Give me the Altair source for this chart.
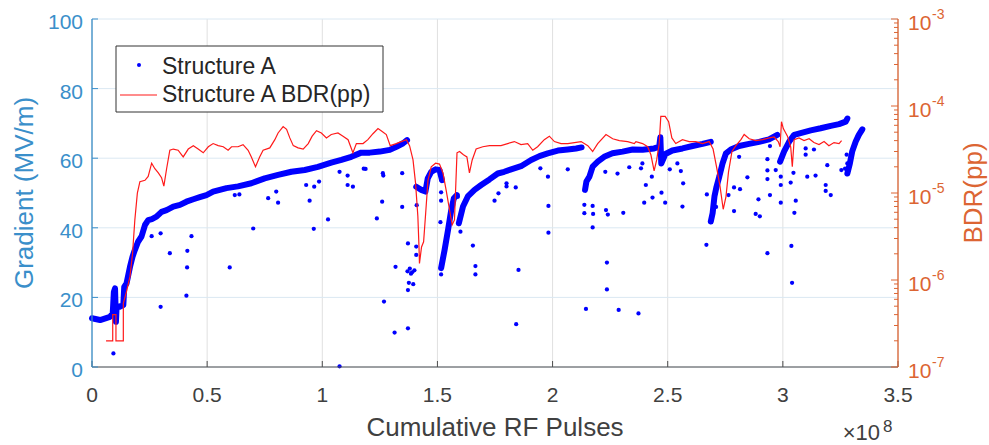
import altair as alt
import pandas as pd

# ---------------- data (x in units of 1e8 pulses) ----------------
# dense conditioning band of Structure A, one list pair per run
segA_x = [0.0, 0.035, 0.078, 0.09, 0.095, 0.100, 0.104, 0.107, 0.12, 0.136, 0.14, 0.15, 0.165,
          0.176, 0.186, 0.20, 0.215, 0.23, 0.244, 0.26, 0.28, 0.302, 0.324, 0.353, 0.382, 0.41,
          0.44, 0.468, 0.497, 0.526, 0.555, 0.584, 0.634, 0.692, 0.75, 0.808, 0.866, 0.924,
          0.981, 1.039, 1.083, 1.126, 1.169, 1.206, 1.25, 1.293, 1.322, 1.351, 1.368]
segA_y = [14.0, 13.5, 14.4, 15.4, 21.6, 22.6, 13.0, 17.5, 17.3, 17.8, 23.0, 24.0, 28.8,
          31.7, 33.6, 36.0, 37.5, 40.8, 42.2, 42.5, 43.2, 44.6, 45.1, 46.1, 46.6, 47.5,
          48.2, 48.8, 49.4, 50.4, 50.9, 51.4, 51.9, 52.8, 54.2, 55.2, 56.1, 56.6,
          57.5, 58.7, 59.5, 60.4, 61.6, 61.6, 61.9, 62.4, 63.3, 64.3, 65.2]
segB_x = [1.408, 1.43, 1.448, 1.458, 1.473, 1.492, 1.509, 1.52]
segB_y = [51.8, 50.9, 50.4, 54.2, 56.1, 56.8, 56.6, 53.7]
segC_x = [1.516, 1.531, 1.546, 1.56, 1.571, 1.584]
segC_y = [28.4, 33.6, 39.4, 45.1, 48.4, 49.4]
segD_x = [1.593, 1.611, 1.632, 1.661, 1.69, 1.726, 1.762, 1.79, 1.82, 1.863, 1.907, 1.943,
          1.979, 2.023, 2.066, 2.102, 2.126]
segD_y = [41.3, 46.1, 49.0, 50.9, 52.3, 53.9, 55.6, 56.1, 56.8, 57.7, 59.5, 60.6,
          61.4, 62.2, 62.5, 62.8, 63.1]
segE_x = [2.141, 2.147, 2.16, 2.174, 2.196, 2.224, 2.26, 2.304, 2.348, 2.391, 2.441, 2.463,
          2.468, 2.472, 2.49, 2.52, 2.564, 2.608, 2.651, 2.687]
segE_y = [50.9, 53.3, 54.7, 57.6, 59.0, 60.4, 61.4, 61.9, 62.5, 62.4, 62.8, 63.3,
          66.0, 58.5, 61.2, 62.2, 62.8, 63.5, 64.1, 64.7]
segF_x = [2.687, 2.695, 2.703, 2.712, 2.724, 2.738, 2.753, 2.774, 2.81, 2.853, 2.897, 2.94, 2.976]
segF_y = [41.8, 44.2, 49.0, 51.8, 54.7, 58.5, 61.4, 62.5, 63.5, 64.1, 64.7, 65.4, 66.7]
segG_x = [2.988, 3.005, 3.027, 3.049, 3.077, 3.121, 3.164, 3.208, 3.244, 3.273, 3.28]
segG_y = [59.0, 61.9, 64.7, 66.7, 67.2, 68.0, 68.6, 69.3, 69.8, 70.5, 71.4]
segH_x = [3.28, 3.291, 3.301, 3.316, 3.33, 3.345]
segH_y = [55.6, 58.5, 61.9, 64.7, 66.7, 68.3]

# scattered (outlier) gradient points
out_x = [0.093, 0.259, 0.298, 0.338, 0.298, 0.413, 0.414, 0.432, 0.41, 0.598, 0.62, 0.64, 0.70,
         0.765, 0.80, 0.808, 0.93, 0.945, 0.963, 0.965, 0.986, 1.025, 1.075, 1.11, 1.11, 1.133,
         1.075, 1.18, 1.188, 1.263, 1.265, 1.347, 1.26, 1.347, 1.237, 1.41, 1.372, 1.408, 1.408,
         1.318, 1.37, 1.38, 1.39, 1.40, 1.385, 1.376, 1.395, 1.372, 1.268, 1.314, 1.372, 1.516,
         1.516, 1.516, 1.513, 1.516, 1.589, 1.654, 1.665, 1.665, 1.60, 1.748, 1.765, 1.80, 1.80,
         1.84, 1.852, 1.842, 1.947, 1.98, 1.982, 1.982, 2.066, 2.138, 2.138, 2.174, 2.176, 2.174,
         2.145, 2.229, 2.232, 2.24, 2.236, 2.236, 2.287, 2.282, 2.307, 2.333, 2.384, 2.39, 2.405,
         2.431, 2.398, 2.434, 2.473, 2.489, 2.509, 2.542, 2.557, 2.567, 2.564, 2.373, 2.67, 2.668,
         2.71, 2.764, 2.788, 2.814, 2.788, 2.81, 2.846, 2.894, 2.882, 2.90, 2.933, 2.933, 2.933,
         2.933, 2.944, 2.944, 2.969, 2.991, 2.991, 2.991, 3.034, 3.056, 3.05, 3.037, 3.04, 3.046,
         3.099, 3.099, 3.106, 3.135, 3.142, 3.193, 3.186, 3.186, 3.208, 3.254, 3.277, 3.27, 3.28,
         3.285]
out_y = [3.9, 37.6, 38.4, 32.7, 17.3, 28.6, 33.4, 37.6, 20.5, 28.6, 49.4, 49.6, 39.8,
         48.5, 50.4, 47.2, 52.3, 47.8, 39.7, 51.8, 53.3, 42.4, 56.1, 52.3, 55.0, 51.8,
         0.2, 57.0, 56.9, 55.7, 55.0, 55.7, 47.5, 46.0, 42.7, 46.5, 35.5, 34.6, 32.2,
         28.8, 27.5, 28.3, 27.2, 27.8, 26.8, 24.2, 23.8, 22.1, 18.8, 9.9, 11.1, 53.7,
         50.2, 47.8, 41.6, 26.6, 48.9, 34.9, 29.0, 26.6, 38.9, 47.8, 49.9, 52.8, 51.9,
         51.6, 27.9, 12.3, 57.1, 54.7, 46.3, 38.6, 56.8, 46.6, 44.2, 46.3, 44.0, 40.1,
         16.7, 56.1, 45.1, 43.8, 30.0, 22.3, 16.4, 55.6, 44.3, 57.4, 57.1, 58.5, 52.3,
         54.7, 47.2, 48.7, 50.1, 47.2, 56.8, 58.5, 56.3, 52.8, 46.1, 15.4, 49.6, 35.1,
         46.0, 49.4, 51.6, 51.1, 44.8, 60.4, 54.5, 48.2, 44.0, 43.3, 59.7, 56.5, 54.0,
         32.7, 49.4, 63.5, 56.6, 54.7, 52.3, 47.2, 53.0, 47.8, 44.3, 34.8, 24.2, 55.8,
         62.8, 61.0, 54.7, 62.5, 55.0, 58.0, 52.3, 50.6, 49.4, 56.6, 61.0, 57.0, 58.5,
         56.5]

# breakdown rate (per pulse)
bdr_x = [0.061, 0.09, 0.09, 0.104, 0.104, 0.136, 0.136, 0.15, 0.165, 0.176, 0.186, 0.197, 0.208,
         0.23, 0.244, 0.259, 0.273, 0.288, 0.302, 0.312, 0.324, 0.338, 0.353, 0.374, 0.396,
         0.418, 0.44, 0.461, 0.483, 0.505, 0.526, 0.548, 0.57, 0.591, 0.606, 0.634, 0.656,
         0.678, 0.692, 0.71, 0.728, 0.743, 0.772, 0.794, 0.808, 0.83, 0.845, 0.859, 0.874,
         0.895, 0.917, 0.939, 0.956, 0.975, 0.996, 1.018, 1.039, 1.068, 1.09, 1.112, 1.133,
         1.148, 1.169, 1.177, 1.198, 1.22, 1.242, 1.26, 1.278, 1.295, 1.321, 1.343, 1.365,
         1.379, 1.394, 1.405, 1.415, 1.42, 1.422, 1.431, 1.44, 1.449, 1.459, 1.473, 1.492,
         1.509, 1.524, 1.538, 1.553, 1.564, 1.574, 1.585, 1.596, 1.613, 1.628, 1.639, 1.651,
         1.668, 1.697, 1.726, 1.755, 1.776, 1.805, 1.834, 1.863, 1.892, 1.914, 1.935, 1.964,
         1.986, 2.008, 2.037, 2.066, 2.095, 2.124, 2.153, 2.174, 2.196, 2.232, 2.261, 2.29,
         2.326, 2.355, 2.362, 2.391, 2.413, 2.427, 2.441, 2.452, 2.463, 2.47, 2.489, 2.504,
         2.518, 2.535, 2.564, 2.593, 2.622, 2.651, 2.68, 2.697, 2.712, 2.727, 2.741, 2.753,
         2.764, 2.779, 2.796, 2.818, 2.832, 2.854, 2.883, 2.912, 2.941, 2.962, 2.98, 2.988,
         2.994, 3.002, 3.02, 3.034, 3.041, 3.049, 3.07, 3.092, 3.114, 3.135, 3.157, 3.179,
         3.2, 3.222, 3.244, 3.255]
bdr_v = [2.0e-7, 2.0e-7, 4.0e-7, 4.0e-7, 2.0e-7, 2.0e-7, 5.4e-7, 7.4e-7, 1.1e-6, 2.0e-6, 4.9e-6, 1.0e-5, 1.35e-5,
         1.4e-5, 1.55e-5, 2.2e-5, 1.9e-5, 1.7e-5, 1.5e-5, 1.2e-5, 1.9e-5, 3.1e-5, 3.2e-5, 3.1e-5, 2.6e-5,
         3.2e-5, 3.5e-5, 3.2e-5, 2.9e-5, 3.4e-5, 3.7e-5, 3.5e-5, 3.4e-5, 3.1e-5, 3.4e-5, 3.4e-5, 3.6e-5,
         3.1e-5, 2.6e-5, 2.0e-5, 2.6e-5, 3.1e-5, 3.3e-5, 4.1e-5, 4.9e-5, 5.8e-5, 5.4e-5, 4.3e-5, 3.5e-5,
         3.3e-5, 3.2e-5, 3.7e-5, 4.5e-5, 5.2e-5, 4.9e-5, 4.3e-5, 4.7e-5, 4.9e-5, 4.5e-5, 4.1e-5, 2.9e-5,
         3.7e-5, 3.7e-5, 3.7e-5, 4.1e-5, 4.8e-5, 5.5e-5, 5.1e-5, 4.7e-5, 3.5e-5, 3.7e-5, 3.9e-5, 4.1e-5,
         3.5e-5, 2.4e-5, 1.3e-5, 5.4e-6, 2.4e-6, 1.55e-6, 2.4e-6, 2.75e-6, 5.9e-6, 1.4e-5, 2.0e-5, 2.2e-5,
         2.15e-5, 1.7e-5, 1.07e-5, 6.3e-6, 4.3e-6, 4.9e-6, 2.9e-5, 3.0e-5, 2.75e-5, 2.6e-5, 1.7e-5, 2.4e-5,
         3.2e-5, 3.4e-5, 3.5e-5, 3.5e-5, 3.5e-5, 3.7e-5, 3.9e-5, 3.6e-5, 3.7e-5, 3.1e-5, 3.4e-5, 4.1e-5,
         4.5e-5, 3.9e-5, 3.7e-5, 3.7e-5, 3.8e-5, 3.9e-5, 3.5e-5, 3.0e-5, 3.7e-5, 4.7e-5, 4.2e-5, 4.0e-5,
         3.9e-5, 3.7e-5, 3.9e-5, 3.7e-5, 3.4e-5, 2.75e-5, 1.8e-5, 2.4e-5, 3.7e-5, 7.6e-5, 7.6e-5, 6.6e-5,
         4.3e-5, 3.7e-5, 4.1e-5, 3.9e-5, 3.9e-5, 3.7e-5, 3.9e-5, 3.2e-5, 2.0e-5, 1.2e-5, 6.5e-6, 9.1e-6,
         1.75e-5, 3.0e-5, 3.5e-5, 4.1e-5, 4.7e-5, 4.2e-5, 4.0e-5, 4.1e-5, 4.3e-5, 4.4e-5, 3.9e-5, 3.4e-5,
         6.6e-5, 5.5e-5, 4.5e-5, 3.4e-5, 2.0e-5, 4.1e-5, 4.3e-5, 4.0e-5, 4.2e-5, 3.8e-5, 3.6e-5, 3.9e-5,
         3.5e-5, 3.8e-5, 3.7e-5, 4.0e-5]

# axis ticks / labels
x_ticks = [0, 0.5, 1, 1.5, 2, 2.5, 3, 3.5]
x_tick_labels = ["0", "0.5", "1", "1.5", "2", "2.5", "3", "3.5"]
grad_ticks = [0, 20, 40, 60, 80, 100]
grad_tick_labels = ["0", "20", "40", "60", "80", "100"]
bdr_decades = [1e-7, 1e-6, 1e-5, 1e-4, 1e-3]
bdr_exponents = ["-7", "-6", "-5", "-4", "-3"]
bdr_minor = [2e-7, 3e-7, 4e-7, 5e-7, 6e-7, 7e-7, 8e-7, 9e-7,
             2e-6, 3e-6, 4e-6, 5e-6, 6e-6, 7e-6, 8e-6, 9e-6,
             2e-5, 3e-5, 4e-5, 5e-5, 6e-5, 7e-5, 8e-5, 9e-5,
             2e-4, 3e-4, 4e-4, 5e-4, 6e-4, 7e-4, 8e-4, 9e-4]
legend_labels = ["Structure A", "Structure A BDR(pp)"]
x_title = "Cumulative RF Pulses"
left_title = "Gradient (MV/m)"
right_title = "BDR(pp)"
x_multiplier = ["×10", "8"]

# ---------------- styling ----------------
W, H = 806, 348
FONT = "Liberation Sans"
BLUE_AX = "#3a8fca"
ORANGE = "#dc6533"
GREY = "#404040"
AXGREY = "#4d4d4d"
PT_BLUE = "#0000ff"
LINE_RED = "#ff1a1a"

segs = []
for name, xs, ys in [("A", segA_x, segA_y), ("B", segB_x, segB_y), ("C", segC_x, segC_y),
                     ("D", segD_x, segD_y), ("E", segE_x, segE_y), ("F", segF_x, segF_y),
                     ("G", segG_x, segG_y), ("H", segH_x, segH_y)]:
    for i, (a, b) in enumerate(zip(xs, ys)):
        segs.append({"seg": name, "i": i, "x": a, "g": b})
band_df = pd.DataFrame(segs)
out_df = pd.DataFrame({"x": out_x, "g": out_y})
bdr_df = pd.DataFrame({"x": bdr_x, "bdr": bdr_v, "i": list(range(len(bdr_x)))})
xt_df = pd.DataFrame({"t": x_ticks, "s": x_tick_labels})
gt_df = pd.DataFrame({"t": grad_ticks, "s": grad_tick_labels})
one = pd.DataFrame({"k": [0]})

xscale = alt.Scale(domain=[0, 3.5], nice=False, zero=False)
gscale = alt.Scale(domain=[0, 100], nice=False, zero=False)
bscale = alt.Scale(type="log", domain=[1e-7, 1e-3], nice=False)

X = lambda f: alt.X(f, scale=xscale, axis=None)
YG = lambda f: alt.Y(f, scale=gscale, axis=None)
YB = lambda f: alt.Y(f, scale=bscale, axis=None)

# grid
xgrid = alt.Chart(xt_df).mark_rule(color="#e0e0e0", strokeWidth=1).encode(
    x=X("t:Q"), y=alt.value(0), y2=alt.value(H))
ggrid = alt.Chart(gt_df).mark_rule(color="#dbe8f2", strokeWidth=1).encode(
    y=YG("t:Q"), x=alt.value(0), x2=alt.value(W))

band = alt.Chart(band_df).mark_line(color=PT_BLUE, strokeWidth=6, strokeCap="round",
                                    strokeJoin="round").encode(
    x=X("x:Q"), y=YG("g:Q"), detail="seg:N", order="i:Q")
outl = alt.Chart(out_df).mark_circle(color=PT_BLUE, size=18, opacity=1).encode(
    x=X("x:Q"), y=YG("g:Q"))

# bottom axis
xdom = alt.Chart(one).mark_rule(color=AXGREY, strokeWidth=1).encode(
    x=alt.value(0), x2=alt.value(W), y=alt.value(H))
xt = alt.Chart(xt_df).mark_rule(color=AXGREY, strokeWidth=1).encode(
    x=X("t:Q"), y=alt.value(H), y2=alt.value(H - 6))
xlab = alt.Chart(xt_df).mark_text(align="center", baseline="alphabetic", fontSize=21, font=FONT,
                                  color=GREY).encode(x=X("t:Q"), y=alt.value(H + 35), text="s:N")
xtit = alt.Chart(pd.DataFrame({"s": [x_title]})).mark_text(
    align="center", baseline="alphabetic", fontSize=26, font=FONT, color=GREY).encode(
    x=alt.value(W / 2), y=alt.value(H + 69), text="s:N")

# left axis
gdom = alt.Chart(one).mark_rule(color=BLUE_AX, strokeWidth=1.3).encode(
    x=alt.value(0), y=alt.value(0), y2=alt.value(H))
gt = alt.Chart(gt_df).mark_rule(color=BLUE_AX, strokeWidth=1).encode(
    y=YG("t:Q"), x=alt.value(0), x2=alt.value(6))
glab = alt.Chart(gt_df).mark_text(align="right", baseline="alphabetic", fontSize=21, font=FONT,
                                  color=BLUE_AX, dy=10).encode(
    y=YG("t:Q"), x=alt.value(-9), text="s:N")
gtit = alt.Chart(pd.DataFrame({"s": [left_title]})).mark_text(
    align="center", baseline="alphabetic", fontSize=26, font=FONT, color=BLUE_AX, angle=270).encode(
    x=alt.value(-59), y=alt.value(174), text="s:N")

left = alt.layer(xgrid, ggrid, band, outl, xdom, xt, xlab, xtit, gdom, gt, glab, gtit)

# right axis (BDR, log)
red = alt.Chart(bdr_df).mark_line(color=LINE_RED, strokeWidth=1.2).encode(
    x=X("x:Q"), y=YB("bdr:Q"), order="i:Q")
bdom = alt.Chart(one).mark_rule(color=ORANGE, strokeWidth=1.3).encode(
    x=alt.value(W), y=alt.value(0), y2=alt.value(H))
bmaj = alt.Chart(pd.DataFrame({"t": bdr_decades})).mark_rule(color=ORANGE, strokeWidth=1).encode(
    y=YB("t:Q"), x=alt.value(W), x2=alt.value(W - 7))
bmin = alt.Chart(pd.DataFrame({"t": bdr_minor})).mark_rule(color=ORANGE, strokeWidth=1).encode(
    y=YB("t:Q"), x=alt.value(W), x2=alt.value(W - 4))
lab_df = pd.DataFrame({"t": bdr_decades, "e": bdr_exponents, "b": ["10"] * 5})
blab = alt.Chart(lab_df).mark_text(align="left", baseline="alphabetic", fontSize=21, font=FONT,
                                   color=ORANGE, dy=11).encode(
    y=YB("t:Q"), x=alt.value(W + 10), text="b:N")
bexp = alt.Chart(lab_df).mark_text(align="left", baseline="alphabetic", fontSize=14, font=FONT,
                                   color=ORANGE, dy=0).encode(
    y=YB("t:Q"), x=alt.value(W + 34), text="e:N")
btit = alt.Chart(pd.DataFrame({"s": [right_title]})).mark_text(
    align="center", baseline="alphabetic", fontSize=26, font=FONT, color=ORANGE, angle=270).encode(
    x=alt.value(W + 84), y=alt.value(174), text="s:N")
right = alt.layer(red, bdom, bmaj, bmin, blab, bexp, btit)

# x10^8 multiplier
mult1 = alt.Chart(pd.DataFrame({"s": [x_multiplier[0]]})).mark_text(
    align="right", baseline="alphabetic", fontSize=22, font=FONT, color=GREY).encode(
    x=alt.value(788), y=alt.value(421), text="s:N")
mult2 = alt.Chart(pd.DataFrame({"s": [x_multiplier[1]]})).mark_text(
    align="left", baseline="alphabetic", fontSize=17, font=FONT, color=GREY).encode(
    x=alt.value(791), y=alt.value(413), text="s:N")

# legend
leg_box = alt.Chart(one).mark_rect(fill="white", stroke="#333333", strokeWidth=1).encode(
    x=alt.value(24), x2=alt.value(291), y=alt.value(27), y2=alt.value(93))
leg_dot = alt.Chart(one).mark_circle(color=PT_BLUE, size=16, opacity=1).encode(
    x=alt.value(47), y=alt.value(46))
leg_line = alt.Chart(one).mark_rule(color=LINE_RED, strokeWidth=1.2).encode(
    x=alt.value(28), x2=alt.value(65), y=alt.value(76))
leg_t1 = alt.Chart(pd.DataFrame({"s": [legend_labels[0]]})).mark_text(
    align="left", baseline="alphabetic", fontSize=23, font=FONT, color="#262626").encode(
    x=alt.value(70), y=alt.value(54.5), text="s:N")
leg_t2 = alt.Chart(pd.DataFrame({"s": [legend_labels[1]]})).mark_text(
    align="left", baseline="alphabetic", fontSize=23, font=FONT, color="#262626").encode(
    x=alt.value(70), y=alt.value(82.5), text="s:N")

chart = alt.layer(left, right, mult1, mult2, leg_box, leg_dot, leg_line, leg_t1, leg_t2).resolve_scale(
    y="independent").properties(
    width=W, height=H, background="white",
    padding={"left": 92, "top": 19, "right": 91, "bottom": 78},
    autosize=alt.AutoSizeParams(type="none"),
).configure_view(stroke="transparent")

chart.save("out.html", embed_options={"renderer": "svg", "actions": False})
